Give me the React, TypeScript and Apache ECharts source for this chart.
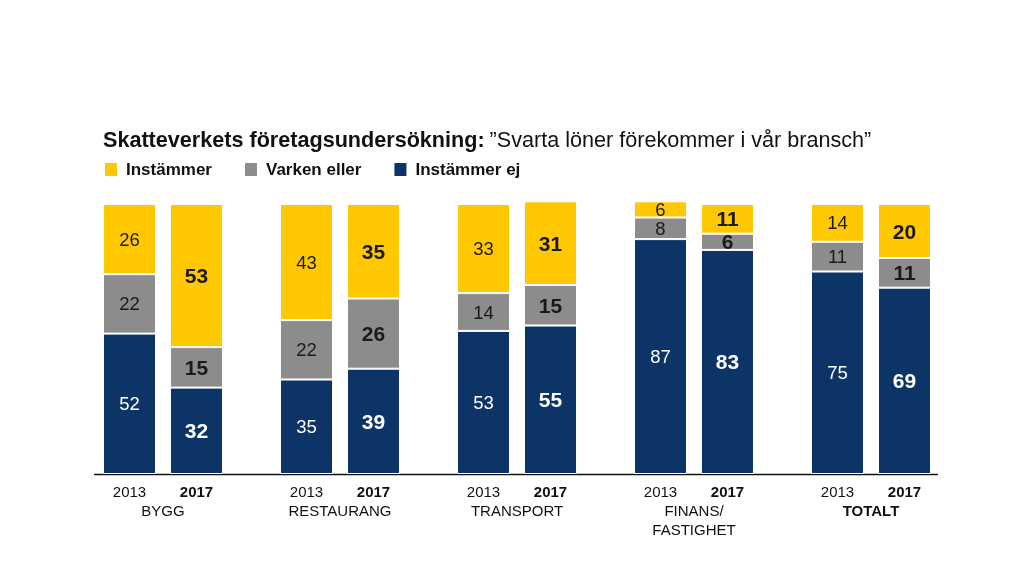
import React, { useEffect, useRef } from "react";
import * as echarts from "echarts";

const categories = ["BYGG", "RESTAURANG", "TRANSPORT", "FINANS/\nFASTIGHET", "TOTALT"];
const years = ["2013", "2017"];
const instammer2013 = [26, 43, 33, 6, 14];
const varken2013 = [22, 22, 14, 8, 11];
const ej2013 = [52, 35, 53, 87, 75];
const instammer2017 = [53, 35, 31, 11, 20];
const varken2017 = [15, 26, 15, 6, 11];
const ej2017 = [32, 39, 55, 83, 69];

const FONT = "'Liberation Sans', Arial, sans-serif";
const YELLOW = "#FFC800";
const GRAY = "#8C8C8C";
const NAVY = "#0D3466";

export default function App() {
  const ref = useRef<HTMLDivElement>(null);
  useEffect(() => {
    if (!ref.current) return;
    const chart = echarts.init(ref.current, null, { renderer: "svg" });
    const mk = (name: string, data: number[], stack: string, color: string, labelColor: string) => {
      const bold = stack === "2017";
      return {
        type: "bar",
        name,
        stack,
        data,
        barWidth: 53,
        barGap: "26.4%",
        itemStyle: { color, borderColor: "#ffffff", borderWidth: 1 },
        label: {
          show: true,
          position: "inside",
          color: labelColor,
          fontFamily: FONT,
          fontSize: bold ? 21 : 18.5,
          fontWeight: bold ? "bold" : "normal",
        },
      };
    };
    const option = {
      animation: false,
      textStyle: { fontFamily: FONT },
      title: {
        left: 103,
        top: 128,
        padding: 0,
        text: "{b|Skatteverkets företagsundersökning:} {n|”Svarta löner förekommer i vår bransch”}",
        textStyle: {
          rich: {
            b: { fontFamily: FONT, fontSize: 21.6, fontWeight: "bold", color: "#111111" },
            n: { fontFamily: FONT, fontSize: 21.6, fontWeight: "normal", color: "#111111" },
          },
        },
      },
      legend: {
        left: 103,
        top: 161,
        padding: 0,
        itemWidth: 14,
        itemHeight: 15,
        itemGap: 31,
        icon: "rect",
        data: ["Instämmer", "Varken eller", "Instämmer ej"],
        textStyle: { fontFamily: FONT, fontSize: 17, fontWeight: "bold", color: "#111111", padding: [0, 0, 0, 3] },
      },
      grid: { left: 74.5, right: 1024 - 959.5, top: 474 - 101 * 2.7, bottom: 576 - 474 },
      xAxis: {
        type: "category",
        data: categories,
        axisLine: { show: false },
        axisTick: { show: false },
        axisLabel: {
          interval: 0,
          margin: 8,
          formatter: (value: string) => {
            const first = `{y|${years[0]}}{yb|${years[1]}}`;
            const parts = value.split("\n");
            const style = value === "TOTALT" ? "gb" : "g";
            return [first, ...parts.map((p) => `{${style}|${p}}`)].join("\n");
          },
          rich: {
            y: { width: 67, align: "center", fontFamily: FONT, fontSize: 15, color: "#111111", lineHeight: 19 },
            yb: { width: 67, align: "center", fontFamily: FONT, fontSize: 15, fontWeight: "bold", color: "#111111", lineHeight: 19 },
            g: { fontFamily: FONT, fontSize: 15, color: "#111111", lineHeight: 19 },
            gb: { fontFamily: FONT, fontSize: 15, fontWeight: "bold", color: "#111111", lineHeight: 19 },
          },
        },
      },
      yAxis: { type: "value", min: 0, max: 101, show: false, splitLine: { show: false } },
      graphic: [
        { type: "line", shape: { x1: 94, y1: 474.5, x2: 938, y2: 474.5 }, style: { stroke: "#111111", lineWidth: 1.5 } },
      ],
      series: [
        mk("Instämmer ej", ej2013, "2013", NAVY, "#ffffff"),
        mk("Varken eller", varken2013, "2013", GRAY, "#1a1a1a"),
        mk("Instämmer", instammer2013, "2013", YELLOW, "#1a1a1a"),
        mk("Instämmer ej", ej2017, "2017", NAVY, "#ffffff"),
        mk("Varken eller", varken2017, "2017", GRAY, "#1a1a1a"),
        mk("Instämmer", instammer2017, "2017", YELLOW, "#1a1a1a"),
      ],
    };
    chart.setOption(option as any);
    return () => chart.dispose();
  }, []);
  return <div ref={ref} style={{ position: "fixed", left: 0, top: 0, width: 1024, height: 576 }} />;
}
